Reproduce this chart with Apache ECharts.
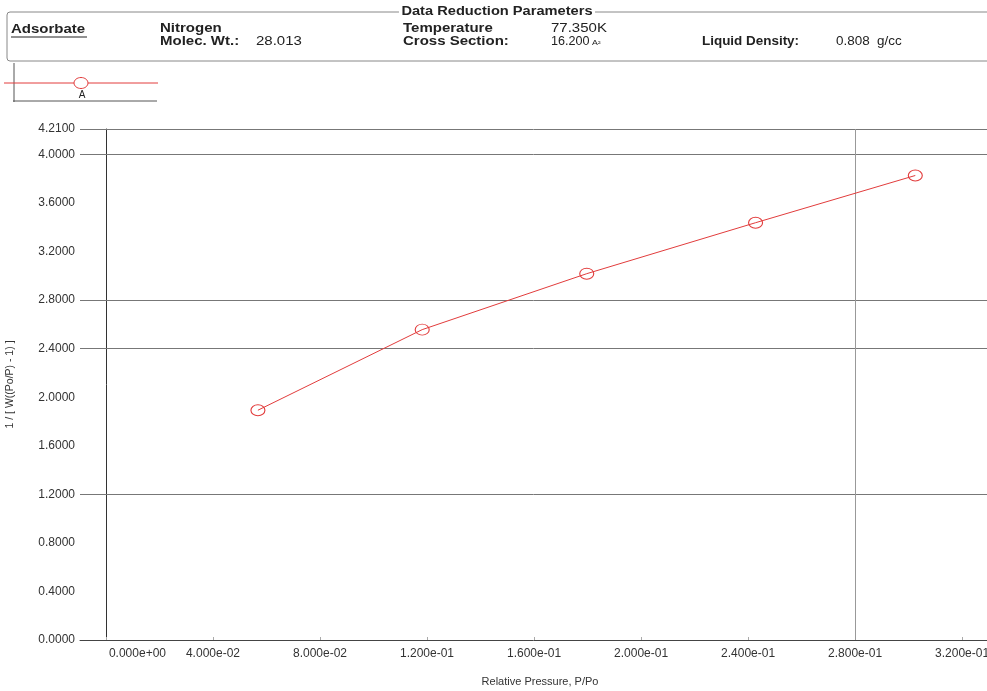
<!DOCTYPE html>
<html>
<head>
<meta charset="utf-8">
<script src="https://cdn.jsdelivr.net/npm/echarts@6/dist/echarts.min.js"></script>
<style>
  html, body { margin: 0; padding: 0; background: #fff; }
  #chart { width: 987px; height: 691px; }
</style>
</head>
<body>
<div id="chart"></div>
<script>
// BET transform points for sample A (nitrogen at 77.35 K)
const relPressure = [0.0568, 0.1182, 0.1797, 0.2428, 0.3025];
const betValue = [1.893, 2.557, 3.018, 3.438, 3.827];

// Axis labels and reference lines
const xTickValues = [0, 0.04, 0.08, 0.12, 0.16, 0.20, 0.24, 0.28, 0.32];
const yTickValues = [0, 0.4, 0.8, 1.2, 1.6, 2.0, 2.4, 2.8, 3.2, 3.6, 4.0, 4.21];
const yGridValues = [4.21, 4.0, 2.8, 2.4, 1.2];
const xGridValues = [0.28];

const RED = '#e23c3c';
const FONT = '"Liberation Sans", Arial, sans-serif';

function sci(v) {
  if (v === 0) return '0.000e+00';
  const exp = Math.floor(Math.log10(Math.abs(v)) + 1e-9);
  const man = v / Math.pow(10, exp);
  const sign = exp < 0 ? '-' : '+';
  const e = String(Math.abs(exp)).padStart(2, '0');
  return man.toFixed(3) + 'e' + sign + e;
}

const chart = echarts.init(document.getElementById('chart'), null, { renderer: 'canvas' });

function headerText(x, y, text, bold, size, sx) {
  return {
    type: 'text', x: x, y: y, scaleX: sx || 1.25, scaleY: 1,
    style: {
      text: text, fill: '#222', font: (bold ? 'bold ' : '') + (size || 12) + 'px ' + FONT,
      textVerticalAlign: 'middle', textAlign: 'left'
    }
  };
}

const option = {
  animation: false,
  backgroundColor: '#fff',
  grid: { left: 80, right: 0, top: 129, bottom: 51, outerBoundsMode: 'none', containLabel: false },
  xAxis: {
    type: 'value',
    min: -0.0097,
    max: 0.3293,
    name: 'Relative Pressure, P/Po',
    nameLocation: 'middle',
    nameGap: 36,
    nameTextStyle: { fontFamily: FONT, fontSize: 11, color: '#333', padding: [0, 0, 0, 13] },
    axisLine: { show: true, onZero: false, lineStyle: { color: '#444', width: 1 } },
    axisTick: { show: true, inside: true, length: 3, customValues: xTickValues, lineStyle: { color: '#aaa' } },
    axisLabel: {
      customValues: xTickValues,
      margin: 8,
      fontFamily: FONT, fontSize: 12, color: '#333',
      formatter: function (v) {
        return v === 0 ? '{first|' + sci(v) + '}' : sci(v);
      },
      rich: { first: { fontFamily: FONT, fontSize: 12, color: '#333', padding: [0, 0, 0, 63] } }
    },
    splitLine: { show: false }
  },
  yAxis: {
    type: 'value',
    min: 0,
    max: 4.21,
    interval: 0.4,
    name: '1 / [ W((Po/P) - 1) ]',
    nameLocation: 'middle',
    nameGap: 64,
    nameTextStyle: { fontFamily: FONT, fontSize: 10.5, color: '#333' },
    axisLine: { show: true, onZero: true, lineStyle: { color: '#333', width: 1 } },
    axisTick: { show: false },
    axisLabel: {
      customValues: yTickValues,
      margin: 5,
      fontFamily: FONT, fontSize: 12, color: '#333',
      formatter: function (v) { return v.toFixed(4); }
    },
    splitLine: { show: false }
  },
  series: [{
    type: 'line',
    data: relPressure.map(function (x, i) { return [x, betValue[i]]; }),
    symbol: 'circle',
    symbolSize: [14, 11],
    showAllSymbol: true,
    lineStyle: { color: RED, width: 1 },
    itemStyle: { color: 'rgba(255,255,255,0)', borderColor: RED, borderWidth: 1 },
    z: 5,
    markLine: {
      silent: true,
      symbol: 'none',
      label: { show: false },
      lineStyle: { color: '#777', width: 1, type: 'solid' },
      data: yGridValues.map(function (v) { return { yAxis: v }; })
        .concat(xGridValues.map(function (v) { return { xAxis: v, lineStyle: { color: '#999' } }; }))
    }
  }],
  graphic: [
    // parameter box
    {
      type: 'rect', shape: { x: 7, y: 12, width: 1000, height: 49, r: 3 },
      style: { fill: 'none', stroke: '#888', lineWidth: 1 }
    },
    {
      type: 'text', x: 497, y: 12,
      style: {
        text: 'Data Reduction Parameters', font: 'bold 12px ' + FONT, fill: '#222',
        textAlign: 'center', textVerticalAlign: 'middle',
        backgroundColor: '#fff', padding: [0, 2]
      },
      scaleX: 1.22, originX: 0
    },
    headerText(11, 30, 'Adsorbate', true),
    { type: 'line', shape: { x1: 11, y1: 37, x2: 87, y2: 37 }, style: { stroke: '#222', lineWidth: 1 } },
    headerText(160, 29, 'Nitrogen', true),
    headerText(160, 42, 'Molec. Wt.:', true),
    headerText(256, 42, '28.013', false),
    headerText(403, 29, 'Temperature', true),
    headerText(403, 42, 'Cross Section:', true),
    headerText(551, 29, '77.350K', false),
    headerText(551, 42, '16.200', false, 12, 1.05),
    headerText(592, 43, 'A²', false, 7),
    headerText(702, 42, 'Liquid Density:', true, 12, 1.12),
    headerText(836, 42, '0.808  g/cc', false, 12, 1.12),
    // series key
    { type: 'line', shape: { x1: 14, y1: 63, x2: 14, y2: 102 }, style: { stroke: '#555', lineWidth: 1 } },
    { type: 'line', shape: { x1: 13, y1: 101, x2: 157, y2: 101 }, style: { stroke: '#555', lineWidth: 1 } },
    { type: 'line', shape: { x1: 4, y1: 83, x2: 158, y2: 83 }, style: { stroke: RED, lineWidth: 1 } },
    { type: 'ellipse', shape: { cx: 81, cy: 83, rx: 7, ry: 5.5 }, style: { fill: '#fff', stroke: RED, lineWidth: 1 } },
    {
      type: 'text', x: 82, y: 95,
      style: { text: 'A', font: '10px ' + FONT, fill: '#222', textAlign: 'center', textVerticalAlign: 'middle' }
    }
  ]
};

chart.setOption(option);
</script>
</body>
</html>
